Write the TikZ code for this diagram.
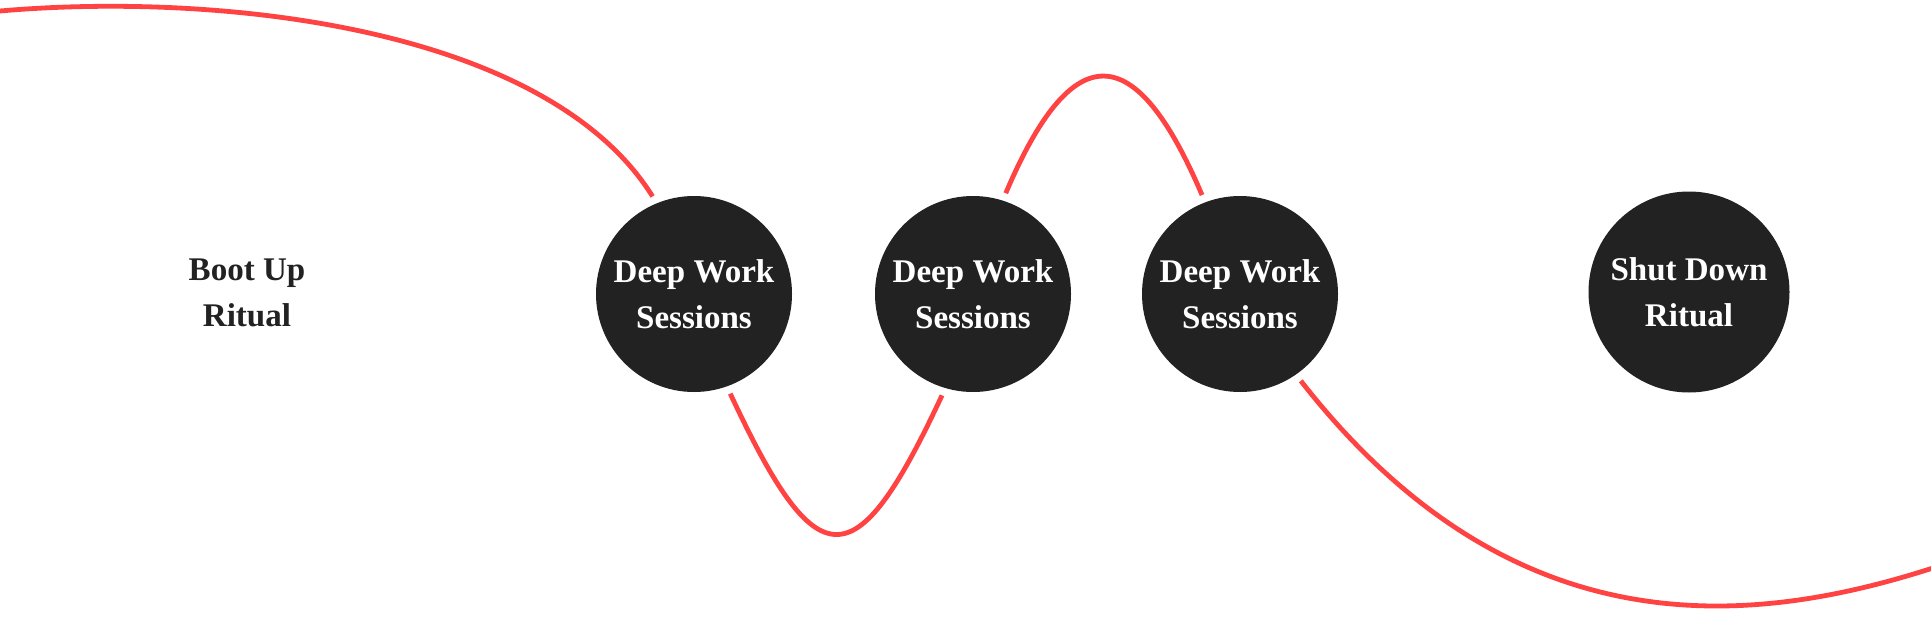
\documentclass[tikz,border=0pt]{standalone}
\usepackage{fontspec}
\setmainfont{Liberation Serif}
\usepackage{tikz}
\usepackage{xcolor}
\definecolor{ink}{HTML}{222222}
\definecolor{wavered}{HTML}{FF4242}

\begin{document}
\begin{tikzpicture}
  [every node/.style={align=center,text=white,font=\bfseries\fontsize{9.4}{13}\selectfont},
   dot/.style={circle,fill=ink,minimum size=1.96cm,inner sep=0pt,outer sep=0.08cm},
   wave/.style={draw=wavered,line width=0.048cm}]
  \useasboundingbox (0,0) rectangle (19.31,6.17);

  \node[text=ink] (n1) at (2.47,3.24) {Boot Up\\Ritual};
  \node[dot] (n2) at (6.94,3.23) {Deep Work\\Sessions};
  \node[dot] (n3) at (9.73,3.23) {Deep Work\\Sessions};
  \node[dot] (n4) at (12.40,3.23) {Deep Work\\Sessions};
  \node[dot,minimum size=2.01cm] (n5) at (16.89,3.25) {Shut Down\\Ritual};

  \coordinate (w0) at (0,6.06);
  \coordinate (w1) at (19.36,0.50);

  \foreach \from/\to/\a/\la/\b/\lb in {w0/n2.113/5/2.2/122/2.0,
      n2.-70/n3.-107/-65/2.06/-115/2.06,
      n3.72/n4.111/67/1.71/113/1.71,
      n4.-55/w1/-52/3.4/198/2.0}
    \draw[wave] (\from) .. controls +(\a:\la) and +(\b:\lb) .. (\to);

\end{tikzpicture}
\end{document}
